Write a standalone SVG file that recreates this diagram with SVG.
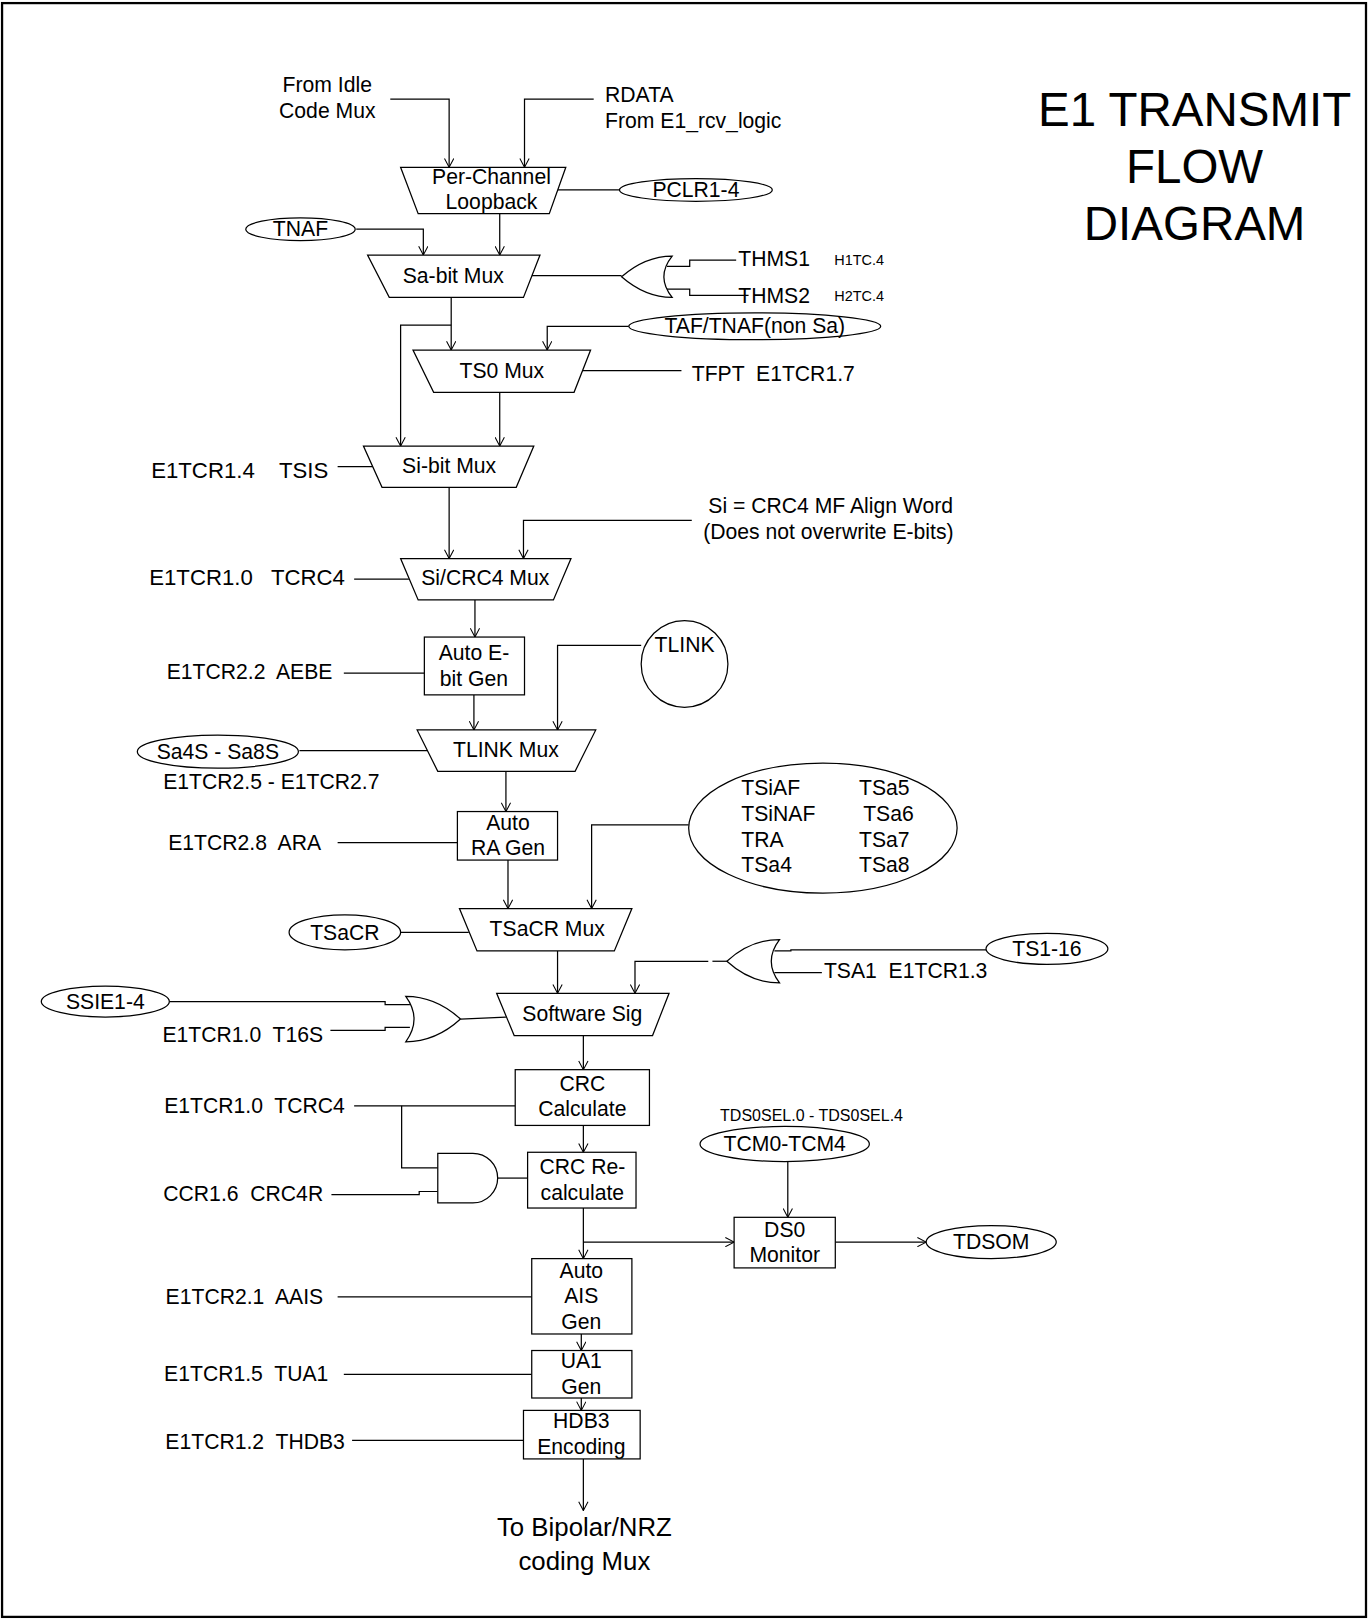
<svg xmlns="http://www.w3.org/2000/svg" width="1369" height="1620" viewBox="0 0 1369 1620">
<style>
.ln{fill:none;stroke:#000;stroke-width:1.2}
.sh{fill:#fff;stroke:#000;stroke-width:1.2}
text{font-family:"Liberation Sans",Arial,sans-serif;font-size:20.5px;fill:#000;white-space:pre}
.c{text-anchor:middle}
.e{text-anchor:end}
.s{font-size:14px}
.b{font-size:21.5px}
</style>
<defs>
<marker id="ar" viewBox="0 0 10 10" refX="9.5" refY="5" markerWidth="10" markerHeight="10" markerUnits="userSpaceOnUse" orient="auto">
<path d="M1,0.5 L9.5,5 L1,9.5" fill="none" stroke="#000" stroke-width="1"/>
</marker>
</defs>
<rect x="0" y="0" width="1369" height="1620" fill="#fff"/>
<g transform="scale(1.0325)">
<rect x="2" y="3" width="1321" height="1563" fill="none" stroke="#000" stroke-width="2.2"/>
<g id="title">
<text x="1157" y="122" class="c" style="font-size:46px">E1 TRANSMIT</text>
<text x="1157" y="177" class="c" style="font-size:46px">FLOW</text>
<text x="1157" y="232" class="c" style="font-size:46px">DIAGRAM</text>
</g>
<g id="connectors" class="ln">
<path d="M378,96 H435 V162" marker-end="url(#ar)"/>
<path d="M575,96 H508 V162" marker-end="url(#ar)"/>
<path d="M540,184 H600"/>
<path d="M484,207 V247" marker-end="url(#ar)"/>
<path d="M345,222 H410 V247" marker-end="url(#ar)"/>
<path d="M515,267 H602"/>
<path d="M646,258 H668 V252 H713"/>
<path d="M646,280 H668 V286 H725"/>
<path d="M437,288 V339" marker-end="url(#ar)"/>
<path d="M437,315 H388 V432" marker-end="url(#ar)"/>
<path d="M610,316 H530 V339" marker-end="url(#ar)"/>
<path d="M564,359 H660"/>
<path d="M327,452 H361"/>
<path d="M484,380 V432" marker-end="url(#ar)"/>
<path d="M435,472 V541" marker-end="url(#ar)"/>
<path d="M670,504 H507 V541" marker-end="url(#ar)"/>
<path d="M343,561 H396"/>
<path d="M460,581 V617" marker-end="url(#ar)"/>
<path d="M333,652 H411"/>
<path d="M459,673 V707" marker-end="url(#ar)"/>
<path d="M621,625 H540 V707" marker-end="url(#ar)"/>
<path d="M290,727 H414"/>
<path d="M490,747 V786" marker-end="url(#ar)"/>
<path d="M327,816 H443"/>
<path d="M492,833 V880" marker-end="url(#ar)"/>
<path d="M667,799 H573 V880" marker-end="url(#ar)"/>
<path d="M388,903 H454"/>
<path d="M540,921 V962" marker-end="url(#ar)"/>
<path d="M955,920 H766 V921 H750"/>
<path d="M796,942 H750"/>
<path d="M704,931 H690"/>
<path d="M686,931 H615 V962" marker-end="url(#ar)"/>
<path d="M164,970 H373 V973 H397"/>
<path d="M320,998 H373 V995 H397"/>
<path d="M446,987 L490,985"/>
<path d="M565,1003 V1036" marker-end="url(#ar)"/>
<path d="M343,1071 H499"/>
<path d="M389,1071 V1131 H424"/>
<path d="M321,1157 H406 V1154 H424"/>
<path d="M482,1141 H511"/>
<path d="M565,1090 V1116" marker-end="url(#ar)"/>
<path d="M565,1170 V1219" marker-end="url(#ar)"/>
<path d="M565,1203 H711" marker-end="url(#ar)"/>
<path d="M763,1125 V1179" marker-end="url(#ar)"/>
<path d="M809,1203 H897" marker-end="url(#ar)"/>
<path d="M327,1256 H515"/>
<path d="M563,1292 V1308" marker-end="url(#ar)"/>
<path d="M333,1331 H515"/>
<path d="M563,1354 V1366" marker-end="url(#ar)"/>
<path d="M341,1395 H507"/>
<path d="M565,1413 V1463" marker-end="url(#ar)"/>
</g>
<g id="labels">
<text x="317" y="89" class="c">From Idle</text>
<text x="317" y="114" class="c">Code Mux</text>
<text x="586" y="99">RDATA</text>
<text x="586" y="124">From E1_rcv_logic</text>
<text x="715" y="258">THMS1</text>
<text x="808" y="257" class="s">H1TC.4</text>
<text x="715" y="293">THMS2</text>
<text x="808" y="292" class="s">H2TC.4</text>
<text x="670" y="369">TFPT  E1TCR1.7</text>
<text x="318" y="463" class="e b">E1TCR1.4    TSIS</text>
<text x="686" y="497">Si = CRC4 MF Align Word</text>
<text x="681" y="522">(Does not overwrite E-bits)</text>
<text x="334" y="567" class="e b">E1TCR1.0   TCRC4</text>
<text x="322" y="658" class="e">E1TCR2.2  AEBE</text>
<text x="158" y="764">E1TCR2.5 - E1TCR2.7</text>
<text x="311" y="823" class="e">E1TCR2.8  ARA</text>
<text x="798" y="947">TSA1  E1TCR1.3</text>
<text x="313" y="1009" class="e">E1TCR1.0  T16S</text>
<text x="334" y="1078" class="e">E1TCR1.0  TCRC4</text>
<text x="313" y="1163" class="e">CCR1.6  CRC4R</text>
<text x="786" y="1086" class="c" style="font-size:15.5px">TDS0SEL.0 - TDS0SEL.4</text>
<text x="313" y="1263" class="e">E1TCR2.1  AAIS</text>
<text x="318" y="1338" class="e">E1TCR1.5  TUA1</text>
<text x="334" y="1403" class="e">E1TCR1.2  THDB3</text>
<text x="566" y="1488" class="c" style="font-size:25px">To Bipolar/NRZ</text>
<text x="566" y="1521" class="c" style="font-size:25px">coding Mux</text>
</g>
<g id="perchannel"><path class="sh" d="M388,162 L548,162 L532,207 L405,207 Z"/><text x="476" y="178" class="c">Per-Channel</text><text x="476" y="202" class="c">Loopback</text></g>
<g id="pclr"><ellipse class="sh" cx="674" cy="184" rx="74" ry="11"/><text x="674" y="191" class="c">PCLR1-4</text></g>
<g id="tnaf"><ellipse class="sh" cx="291" cy="222" rx="53" ry="11"/><text x="291" y="229" class="c">TNAF</text></g>
<g id="sabit"><path class="sh" d="M356,247 L523,247 L507,288 L377,288 Z"/><text x="439" y="274" class="c">Sa-bit Mux</text></g>
<g id="or1"><path class="sh" d="M651,248 Q635,268 651,288 Q625,288 602,268 Q625,248 651,248 Z"/></g>
<g id="taf"><ellipse class="sh" cx="731" cy="316" rx="122" ry="13"/><text x="731" y="323" class="c">TAF/TNAF(non Sa)</text></g>
<g id="ts0"><path class="sh" d="M400,339 L572,339 L556,380 L420,380 Z"/><text x="486" y="366" class="c">TS0 Mux</text></g>
<g id="sibit"><path class="sh" d="M352,432 L517,432 L500,472 L370,472 Z"/><text x="435" y="458" class="c">Si-bit Mux</text></g>
<g id="sicrc4"><path class="sh" d="M388,541 L553,541 L536,581 L405,581 Z"/><text x="470" y="567" class="c">Si/CRC4 Mux</text></g>
<g id="autoebit"><rect class="sh" x="411" y="617" width="97" height="56"/><text x="459" y="639" class="c">Auto E-</text><text x="459" y="664" class="c">bit Gen</text></g>
<g id="tlink"><circle class="sh" cx="663" cy="643" r="42"/><text x="663" y="631" class="c">TLINK</text></g>
<g id="tlinkmux"><path class="sh" d="M404,707 L577,707 L557,747 L424,747 Z"/><text x="490" y="733" class="c">TLINK Mux</text></g>
<g id="sa4s"><ellipse class="sh" cx="211" cy="728" rx="78" ry="16"/><text x="211" y="735" class="c">Sa4S - Sa8S</text></g>
<g id="autora"><rect class="sh" x="443" y="786" width="97" height="47"/><text x="492" y="804" class="c">Auto</text><text x="492" y="828" class="c">RA Gen</text></g>
<g id="tsiaf"><ellipse class="sh" cx="797" cy="802" rx="130" ry="63"/><text x="718" y="770">TSiAF</text><text x="832" y="770">TSa5</text><text x="718" y="795">TSiNAF</text><text x="836" y="795">TSa6</text><text x="718" y="820">TRA</text><text x="832" y="820">TSa7</text><text x="718" y="845">TSa4</text><text x="832" y="845">TSa8</text></g>
<g id="tsacrmux"><path class="sh" d="M445,880 L612,880 L595,921 L462,921 Z"/><text x="530" y="907" class="c">TSaCR Mux</text></g>
<g id="tsacr"><ellipse class="sh" cx="334" cy="903" rx="54" ry="17"/><text x="334" y="910" class="c">TSaCR</text></g>
<g id="ts116"><ellipse class="sh" cx="1014" cy="919" rx="59" ry="15"/><text x="1014" y="926" class="c">TS1-16</text></g>
<g id="or2"><path class="sh" d="M755,910 Q739,931 755,952 Q727,952 704,931 Q727,910 755,910 Z"/></g>
<g id="ssie"><ellipse class="sh" cx="102" cy="970" rx="62" ry="15"/><text x="102" y="977" class="c">SSIE1-4</text></g>
<g id="or3"><path class="sh" d="M393,965 Q409,987 393,1009 Q422,1009 446,987 Q422,965 393,965 Z"/></g>
<g id="swsig"><path class="sh" d="M481,962 L648,962 L632,1003 L498,1003 Z"/><text x="564" y="989" class="c">Software Sig</text></g>
<g id="crccalc"><rect class="sh" x="499" y="1036" width="130" height="54"/><text x="564" y="1057" class="c">CRC</text><text x="564" y="1081" class="c">Calculate</text></g>
<g id="and1"><path class="sh" d="M424,1117 H458 A24,24 0 0 1 458,1165 H424 Z"/></g>
<g id="crcre"><rect class="sh" x="511" y="1116" width="105" height="54"/><text x="564" y="1137" class="c">CRC Re-</text><text x="564" y="1162" class="c">calculate</text></g>
<g id="tcm"><ellipse class="sh" cx="760" cy="1108" rx="82" ry="17"/><text x="760" y="1115" class="c">TCM0-TCM4</text></g>
<g id="ds0"><rect class="sh" x="711" y="1179" width="98" height="49"/><text x="760" y="1198" class="c">DS0</text><text x="760" y="1222" class="c">Monitor</text></g>
<g id="tdsom"><ellipse class="sh" cx="960" cy="1203" rx="63" ry="16"/><text x="960" y="1210" class="c">TDSOM</text></g>
<g id="autoais"><rect class="sh" x="515" y="1219" width="97" height="73"/><text x="563" y="1238" class="c">Auto</text><text x="563" y="1262" class="c">AIS</text><text x="563" y="1287" class="c">Gen</text></g>
<g id="ua1"><rect class="sh" x="515" y="1308" width="97" height="46"/><text x="563" y="1325" class="c">UA1</text><text x="563" y="1350" class="c">Gen</text></g>
<g id="hdb3"><rect class="sh" x="507" y="1366" width="113" height="47"/><text x="563" y="1383" class="c">HDB3</text><text x="563" y="1408" class="c">Encoding</text></g>
</g>
</svg>
